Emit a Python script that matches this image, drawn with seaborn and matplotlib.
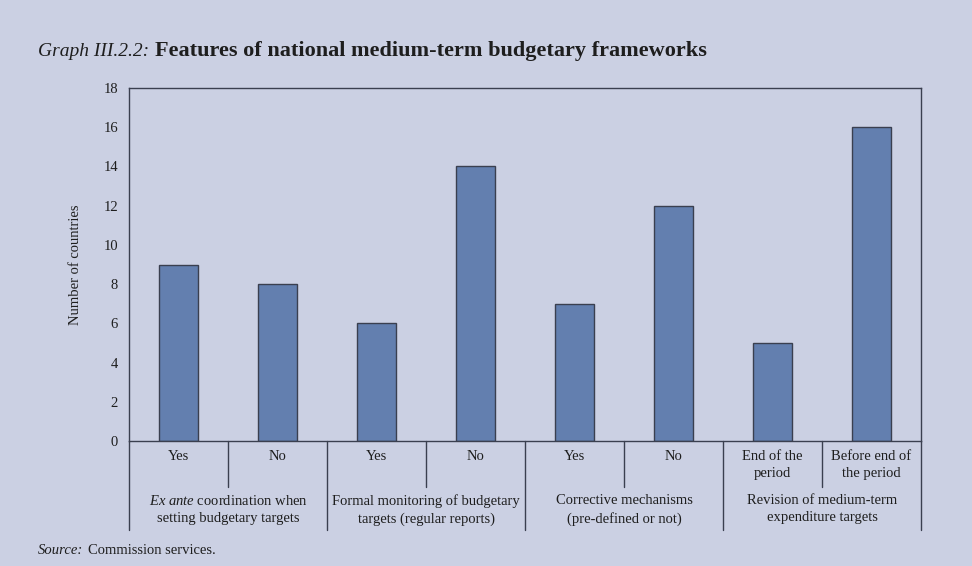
import matplotlib
matplotlib.use("Agg")
import matplotlib.pyplot as plt
import matplotlib.transforms as mtransforms
import seaborn as sns
import pandas as pd

# Data
groups = ["$\\it{Ex\\ ante}$ coordination when\nsetting budgetary targets",
          "Formal monitoring of budgetary\ntargets (regular reports)",
          "Corrective mechanisms\n(pre-defined or not)",
          "Revision of medium-term\nexpenditure targets"]
answers = ["Yes", "No", "Yes", "No", "Yes", "No", "End of the\nperiod", "Before end of\nthe period"]
counts = [9, 8, 6, 14, 7, 12, 5, 16]
yticks = [0, 2, 4, 6, 8, 10, 12, 14, 16, 18]

bg = "#CBD0E3"
bar_color = "#637FAF"
edge = "#3A3F4F"
txt = "#1E1E1E"
fs = 10.5

sns.set_style("white")
plt.rcParams["font.family"] = ["Liberation Serif", "DejaVu Serif"]
plt.rcParams["mathtext.fontset"] = "custom"
plt.rcParams["mathtext.rm"] = "Liberation Serif"
plt.rcParams["mathtext.it"] = "Liberation Serif:italic"

df = pd.DataFrame({"key": [str(i) for i in range(len(counts))],
                   "answer": answers, "count": counts})

fig = plt.figure(figsize=(9.72, 5.66), dpi=100, facecolor=bg)
ax = fig.add_axes([129 / 972, 1 - 441 / 566, (921 - 129) / 972, (441 - 88) / 566])
ax.set_facecolor(bg)

sns.barplot(data=df, x="key", y="count", color=bar_color, width=0.4,
            edgecolor=edge, linewidth=1.0, saturation=1, ax=ax)

ax.set_xlim(-0.5, len(counts) - 0.5)
ax.set_ylim(0, 18)
ax.set_yticks(yticks)
ax.set_yticklabels([str(v) for v in yticks], fontsize=fs, color=txt)
ax.tick_params(axis="y", direction="out", length=5, width=1, color=edge, pad=3)
ax.set_xticks([])
ax.set_xlabel("")
ax.set_ylabel("Number of countries", fontsize=fs, color=txt, labelpad=15)
for s in ax.spines.values():
    s.set_color(edge)
    s.set_linewidth(1.0)

# category labels and separator lines under the axis
trans = mtransforms.blended_transform_factory(ax.transData, ax.transAxes)
for i, lab in enumerate(answers):
    ax.text(i, -0.026, lab, transform=trans, ha="center", va="top",
            fontsize=fs, color=txt, linespacing=1.4)
for b in range(len(counts) + 1):
    x = b - 0.5
    low = -0.252 if b % 2 == 0 else -0.130
    ax.plot([x, x], [0, low], transform=trans, color=edge, lw=1.0, clip_on=False)
for g, lab in enumerate(groups):
    ax.text(2 * g + 0.5, -0.150, lab, transform=trans, ha="center", va="top",
            fontsize=fs, color=txt, linespacing=1.45)

# title and source
fig.text(38 / 972, 1 - 51 / 566, "Graph III.2.2:", fontsize=14, style="italic",
         color=txt, va="center")
fig.text(155 / 972, 1 - 51 / 566, "Features of national medium-term budgetary frameworks",
         fontsize=16, fontweight="bold", color=txt, va="center")
fig.text(38 / 972, 1 - 551 / 566, "Source:", fontsize=fs, style="italic",
         color=txt, va="center")
fig.text(88 / 972, 1 - 551 / 566, "Commission services.", fontsize=fs,
         color=txt, va="center")

fig.savefig("out.png", dpi=100, facecolor=bg)
